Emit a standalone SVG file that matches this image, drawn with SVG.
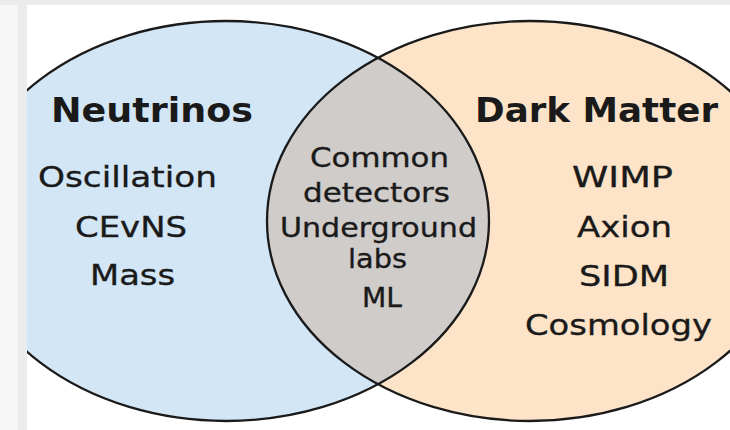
<svg xmlns="http://www.w3.org/2000/svg" width="730" height="430" viewBox="0 0 730 430">
  <style>
    .lbl { font-family: "DejaVu Sans", "Liberation Sans", sans-serif; fill: #1a1a1a; }
    .title { font-size: 33px; font-weight: bold; }
    .item { font-size: 29px; stroke: #1a1a1a; stroke-width: 0.35; }
    .mid { font-size: 27px; stroke: #1a1a1a; stroke-width: 0.35; }
    .edge { fill: none; stroke: #1a1a1a; stroke-width: 2.3; }
  </style>
  <defs>
    <clipPath id="frame"><rect x="27" y="5" width="703" height="425"/></clipPath>
    <clipPath id="leftClip"><ellipse cx="226" cy="221" rx="263" ry="200"/></clipPath>
  </defs>
  <rect x="0" y="0" width="730" height="430" fill="#ffffff"/>
  <rect x="0" y="0" width="27" height="430" fill="#f6f6f6"/>
  <rect x="18" y="0" width="9" height="430" fill="#ececec"/>
  <rect x="0" y="0" width="730" height="5" fill="#ebebeb"/>

  <g clip-path="url(#frame)">
    <g id="neutrinos">
      <ellipse cx="226" cy="221" rx="263" ry="200" fill="#d3e6f6"/>
    </g>
    <g id="dark-matter">
      <ellipse cx="530" cy="221" rx="263" ry="200" fill="#fde4c8"/>
    </g>
    <g id="overlap">
      <ellipse cx="530" cy="221" rx="263" ry="200" fill="#cfccca" clip-path="url(#leftClip)"/>
    </g>
    <g id="outlines">
      <ellipse class="edge" cx="226" cy="221" rx="263" ry="200"/>
      <ellipse class="edge" cx="530" cy="221" rx="263" ry="200"/>
    </g>
  </g>

  <g id="neutrinos-labels" class="lbl">
    <text class="title" x="51" y="122" textLength="202" lengthAdjust="spacingAndGlyphs">Neutrinos</text>
    <text class="item" x="38" y="187" textLength="179" lengthAdjust="spacingAndGlyphs">Oscillation</text>
    <text class="item" x="75" y="237" textLength="112" lengthAdjust="spacingAndGlyphs">CEvNS</text>
    <text class="item" x="90" y="285" textLength="85" lengthAdjust="spacingAndGlyphs">Mass</text>
  </g>
  <g id="dark-matter-labels" class="lbl">
    <text class="title" x="475" y="122" textLength="243" lengthAdjust="spacingAndGlyphs">Dark Matter</text>
    <text class="item" x="572" y="187" textLength="101" lengthAdjust="spacingAndGlyphs">WIMP</text>
    <text class="item" x="577" y="237" textLength="95" lengthAdjust="spacingAndGlyphs">Axion</text>
    <text class="item" x="579" y="286" textLength="90" lengthAdjust="spacingAndGlyphs">SIDM</text>
    <text class="item" x="525" y="335" textLength="187" lengthAdjust="spacingAndGlyphs">Cosmology</text>
  </g>
  <g id="overlap-labels" class="lbl">
    <text class="mid" x="310" y="167" textLength="139" lengthAdjust="spacingAndGlyphs">Common</text>
    <text class="mid" x="303" y="202" textLength="147" lengthAdjust="spacingAndGlyphs">detectors</text>
    <text class="mid" x="280" y="237" textLength="197" lengthAdjust="spacingAndGlyphs">Underground</text>
    <text class="mid" x="348" y="268" textLength="59" lengthAdjust="spacingAndGlyphs">labs</text>
    <text class="mid" x="362" y="307" textLength="40" lengthAdjust="spacingAndGlyphs">ML</text>
  </g>
</svg>
